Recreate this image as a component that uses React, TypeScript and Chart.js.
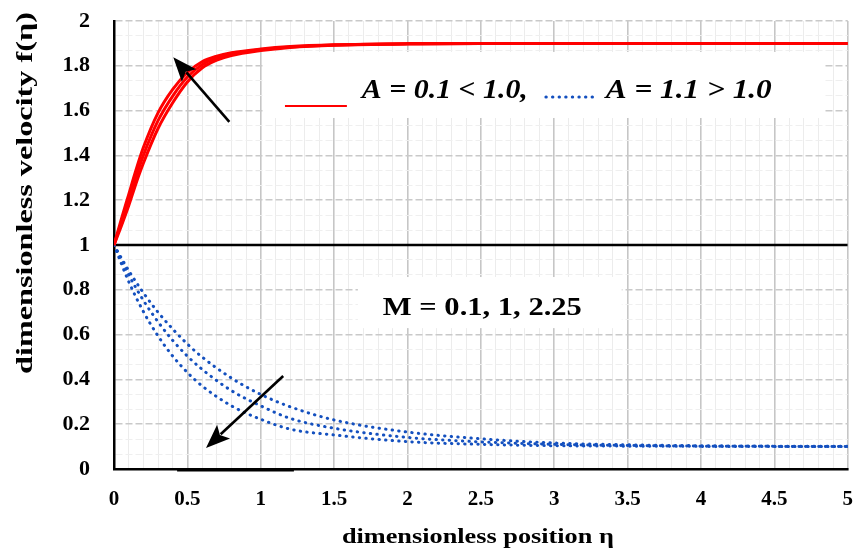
import React, { useEffect, useRef } from 'react';
import { Chart, registerables } from 'chart.js';

Chart.register(...registerables);

// ---- data ----
const ETA_RED = [0, 0.05, 0.1, 0.15, 0.2, 0.3, 0.4, 0.5, 0.6, 0.7, 0.8, 1.0, 1.2, 1.5, 2.0, 2.5, 3.0, 3.5, 4.0, 4.5, 5.0];
const RED_M1 = [1.0, 1.115, 1.225, 1.335, 1.435, 1.59, 1.695, 1.77, 1.818, 1.843, 1.858, 1.875, 1.886, 1.894, 1.899, 1.9, 1.9, 1.9, 1.9, 1.9, 1.9];
const RED_M2 = [1.0, 1.1, 1.2, 1.305, 1.4, 1.555, 1.665, 1.75, 1.805, 1.835, 1.853, 1.872, 1.884, 1.893, 1.898, 1.9, 1.9, 1.9, 1.9, 1.9, 1.9];
const RED_M3 = [1.0, 1.085, 1.175, 1.275, 1.365, 1.52, 1.635, 1.728, 1.79, 1.825, 1.846, 1.868, 1.882, 1.892, 1.897, 1.9, 1.9, 1.9, 1.9, 1.9, 1.9];

const ETA_BLUE = [0, 0.1, 0.2, 0.3, 0.4, 0.5, 0.6, 0.8, 1.0, 1.2, 1.5, 2.0, 2.5, 3.0, 3.5, 4.0, 4.5, 5.0];
const BLUE_M1 = [1.0, 0.886, 0.787, 0.7, 0.625, 0.558, 0.5, 0.406, 0.333, 0.278, 0.219, 0.165, 0.135, 0.116, 0.108, 0.104, 0.102, 0.101];
const BLUE_M2 = [1.0, 0.867, 0.753, 0.657, 0.574, 0.504, 0.445, 0.35, 0.282, 0.226, 0.182, 0.141, 0.121, 0.11, 0.105, 0.102, 0.101, 0.1];
const BLUE_M3 = [1.0, 0.837, 0.703, 0.594, 0.504, 0.431, 0.371, 0.282, 0.222, 0.178, 0.152, 0.122, 0.11, 0.104, 0.102, 0.101, 0.1, 0.1];

const REF_X = [0, 5];
const REF_Y = [1, 1];

const X_TICK_LABELS = ['0', '0.5', '1', '1.5', '2', '2.5', '3', '3.5', '4', '4.5', '5'];
const Y_TICK_LABELS = ['0', '0.2', '0.4', '0.6', '0.8', '1', '1.2', '1.4', '1.6', '1.8', '2'];

const X_TITLE = 'dimensionless position η';
const Y_TITLE = 'dimensionless velocity f(η)';
const LEGEND_RED = 'A = 0.1 < 1.0,';
const LEGEND_BLUE = 'A = 1.1 > 1.0';
const NOTE_M = 'M = 0.1, 1, 2.25';

const SERIF = '"Liberation Serif", "Times New Roman", serif';
const RED = '#ff0000';
const BLUE = '#1450bf';

const toPts = (xs: number[], ys: number[]) => xs.map((x, i) => ({ x, y: ys[i] }));

function stretchText(
  ctx: CanvasRenderingContext2D,
  text: string,
  x: number,
  y: number,
  width: number,
  font: string,
  align: CanvasTextAlign,
  angle = 0
) {
  ctx.save();
  ctx.font = font;
  ctx.fillStyle = '#000';
  ctx.textBaseline = 'alphabetic';
  ctx.textAlign = align;
  const w = ctx.measureText(text).width || 1;
  ctx.translate(x, y);
  if (angle) ctx.rotate(angle);
  ctx.scale(width / w, 1);
  ctx.fillText(text, 0, 0);
  ctx.restore();
}

function arrow(ctx: CanvasRenderingContext2D, x1: number, y1: number, x2: number, y2: number) {
  const ang = Math.atan2(y2 - y1, x2 - x1);
  const hl = 24;
  const hw = 9.5;
  const bx = x2 - hl * Math.cos(ang);
  const by = y2 - hl * Math.sin(ang);
  ctx.save();
  ctx.strokeStyle = '#000';
  ctx.fillStyle = '#000';
  ctx.lineWidth = 2.6;
  ctx.beginPath();
  ctx.moveTo(x1, y1);
  ctx.lineTo(bx + 4 * Math.cos(ang), by + 4 * Math.sin(ang));
  ctx.stroke();
  ctx.beginPath();
  ctx.moveTo(x2, y2);
  ctx.lineTo(bx + hw * Math.sin(ang), by - hw * Math.cos(ang));
  ctx.lineTo(bx + 5 * Math.cos(ang), by + 5 * Math.sin(ang));
  ctx.lineTo(bx - hw * Math.sin(ang), by + hw * Math.cos(ang));
  ctx.closePath();
  ctx.fill();
  ctx.restore();
}

const annotations = {
  id: 'annotations',
  beforeDatasetsDraw(chart: any) {
    const { ctx, scales } = chart;
    const X = (v: number) => scales.x.getPixelForValue(v);
    const Y = (v: number) => scales.y.getPixelForValue(v);
    ctx.save();
    ctx.fillStyle = '#ffffff';
    // legend box
    ctx.fillRect(X(1.015), Y(1.862), X(4.843) - X(1.015), Y(1.567) - Y(1.862));
    // M note box
    ctx.fillRect(X(1.662), Y(0.857), X(3.46) - X(1.662), Y(0.629) - Y(0.857));
    ctx.restore();
  },
  afterDraw(chart: any) {
    const { ctx, scales, chartArea } = chart;
    const X = (v: number) => scales.x.getPixelForValue(v);
    const Y = (v: number) => scales.y.getPixelForValue(v);

    // legend samples
    ctx.save();
    ctx.strokeStyle = RED;
    ctx.lineWidth = 2;
    ctx.beginPath();
    ctx.moveTo(X(1.165), Y(1.621));
    ctx.lineTo(X(1.587), Y(1.621));
    ctx.stroke();
    ctx.strokeStyle = BLUE;
    ctx.lineWidth = 3;
    ctx.lineCap = 'round';
    ctx.setLineDash([0.4, 6.2]);
    ctx.beginPath();
    ctx.moveTo(X(2.943), Y(1.661));
    ctx.lineTo(X(3.297), Y(1.661));
    ctx.stroke();
    ctx.restore();

    const legendW = X(1.131) - X(0);
    stretchText(ctx, LEGEND_RED, X(1.689), Y(1.656), legendW, `italic bold 27px ${SERIF}`, 'left');
    stretchText(ctx, LEGEND_BLUE, X(3.351), Y(1.656), legendW, `italic bold 27px ${SERIF}`, 'left');
    stretchText(ctx, NOTE_M, X(1.832), Y(0.6875), X(1.356) - X(0), `bold 25px ${SERIF}`, 'left');

    // arrows
    arrow(ctx, X(0.786), Y(1.55), X(0.404), Y(1.838));
    arrow(ctx, X(1.153), Y(0.415), X(0.627), Y(0.094));

    // thick segment under the x axis
    ctx.save();
    ctx.strokeStyle = '#000';
    ctx.lineWidth = 3;
    ctx.beginPath();
    ctx.moveTo(X(0.43), Y(0) + 1);
    ctx.lineTo(X(1.226), Y(0) + 1);
    ctx.stroke();
    ctx.restore();

    // axis titles
    const cx = (chartArea.left + chartArea.right) / 2 - 3;
    stretchText(ctx, X_TITLE, cx, chartArea.bottom + 74, 272, `bold 21px ${SERIF}`, 'center');
    stretchText(ctx, Y_TITLE, chartArea.left - 82, chartArea.top + 172, 362, `bold 24px ${SERIF}`, 'center', -Math.PI / 2);
  },
};

export default function App() {
  const ref = useRef<HTMLCanvasElement | null>(null);

  useEffect(() => {
    if (!ref.current) return;
    const redDs = (ys: number[]) => ({
      data: toPts(ETA_RED, ys),
      borderColor: RED,
      backgroundColor: RED,
      borderWidth: 3,
      pointRadius: 0,
      fill: false,
      cubicInterpolationMode: 'monotone' as const,
    });
    const blueDs = (ys: number[]) => ({
      data: toPts(ETA_BLUE, ys),
      borderColor: BLUE,
      backgroundColor: BLUE,
      borderWidth: 3,
      borderDash: [0.4, 6.2],
      borderCapStyle: 'round' as const,
      pointRadius: 0,
      fill: false,
      cubicInterpolationMode: 'monotone' as const,
    });

    const chart = new Chart(ref.current, {
      type: 'line',
      data: {
        datasets: [
          redDs(RED_M1),
          redDs(RED_M2),
          redDs(RED_M3),
          blueDs(BLUE_M1),
          blueDs(BLUE_M2),
          blueDs(BLUE_M3),
          {
            data: toPts(REF_X, REF_Y),
            borderColor: '#000',
            backgroundColor: '#000',
            borderWidth: 2.5,
            pointRadius: 0,
            fill: false,
          },
        ],
      },
      options: {
        responsive: false,
        animation: false,
        events: [],
        layout: { padding: { top: 21, right: 5, left: 0, bottom: 0 } },
        plugins: { legend: { display: false }, tooltip: { enabled: false } },
        scales: {
          x: {
            type: 'linear',
            min: 0,
            max: 5,
            afterBuildTicks: (s: any) => {
              s.ticks = Array.from({ length: 51 }, (_, i) => ({ value: i / 10 }));
            },
            afterFit: (s: any) => {
              s.height = 84;
            },
            ticks: {
              autoSkip: false,
              maxRotation: 0,
              minRotation: 0,
              padding: 0,
              color: '#000',
              font: { family: SERIF, size: 21, weight: 'bold' },
              callback: (_v: any, i: number) => (i % 5 === 0 ? X_TICK_LABELS[i / 5] : ''),
            },
            grid: {
              drawTicks: true,
              tickLength: 18,
              tickColor: 'rgba(0,0,0,0)',
              color: (c: any) => (c.index % 5 === 0 ? '#c6c6c6' : '#ececec'),
              lineWidth: (c: any) => (c.index % 5 === 0 ? 1.6 : 1),
            },
            border: { color: '#000', width: 2.5 },
          },
          y: {
            type: 'linear',
            min: 0,
            max: 2,
            afterBuildTicks: (s: any) => {
              s.ticks = Array.from({ length: 31 }, (_, i) => ({ value: i / 15 }));
            },
            afterFit: (s: any) => {
              s.width = 114;
            },
            ticks: {
              autoSkip: false,
              padding: 0,
              color: '#000',
              font: { family: SERIF, size: 22, weight: 'bold' },
              callback: (_v: any, i: number) => (i % 3 === 0 ? Y_TICK_LABELS[i / 3] : ''),
            },
            grid: {
              drawTicks: true,
              tickLength: 24,
              tickColor: 'rgba(0,0,0,0)',
              color: (c: any) => (c.index % 3 === 0 ? '#c9c9c9' : '#efefef'),
              lineWidth: (c: any) => (c.index % 3 === 0 ? 1.6 : 1),
            },
            border: { color: '#000', width: 2.5, dash: [7, 3] },
          },
        },
      },
      plugins: [annotations],
    } as any);
    return () => chart.destroy();
  }, []);

  return (
    <div style={{ position: 'fixed', left: 0, top: 0, width: 853, height: 553, background: '#fff' }}>
      <canvas ref={ref} width={853} height={553} style={{ display: 'block' }} />
    </div>
  );
}
